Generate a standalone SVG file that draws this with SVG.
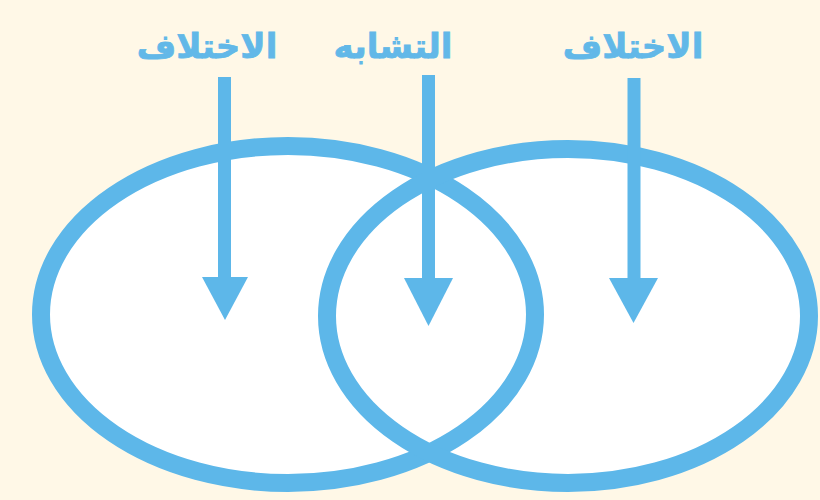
<svg xmlns="http://www.w3.org/2000/svg" width="820" height="500" viewBox="0 0 820 500">
<defs>
<style>
.bg{fill:#FFF8E7}
.fill{fill:#FFFFFF;stroke:none}
.ring{fill:none;stroke:#5DB7E9;stroke-width:18}
.shaft{stroke:#5DB7E9;stroke-width:13;fill:none}
.head{fill:#5DB7E9}
.lbl{font-family:"DejaVu Sans","Noto Sans",sans-serif;font-weight:bold;font-size:34px;fill:#62B8E8;stroke:#62B8E8;stroke-width:0.8;text-anchor:middle}
</style>
</defs>
<rect class="bg" x="0" y="0" width="820" height="500"/>
<g id="fills">
<ellipse class="fill" cx="288" cy="314.5" rx="247" ry="168.5"/>
<ellipse class="fill" cx="568" cy="316" rx="241" ry="167"/>
</g>
<g id="set-left">
<ellipse class="ring" cx="288" cy="314.5" rx="247" ry="168.5"/>
</g>
<g id="set-right">
<ellipse class="ring" cx="568" cy="316" rx="241" ry="167"/>
</g>
<g id="label-left"><text class="lbl" x="207" y="58" direction="rtl">الاختلاف</text></g>
<g id="label-middle"><text class="lbl" x="393" y="58" direction="rtl">التشابه</text></g>
<g id="label-right"><text class="lbl" x="633" y="58" direction="rtl">الاختلاف</text></g>
<g id="connectors">
<line class="shaft" x1="224.5" y1="77" x2="224.5" y2="280"/>
<polygon class="head" points="202,277 248,277 225,320"/>
<line class="shaft" x1="428.5" y1="75" x2="428.5" y2="280"/>
<polygon class="head" points="404,278 453,278 428.5,326"/>
<line class="shaft" x1="634" y1="78" x2="634" y2="280"/>
<polygon class="head" points="609,278 658,278 633.5,323"/>
</g>
</svg>
